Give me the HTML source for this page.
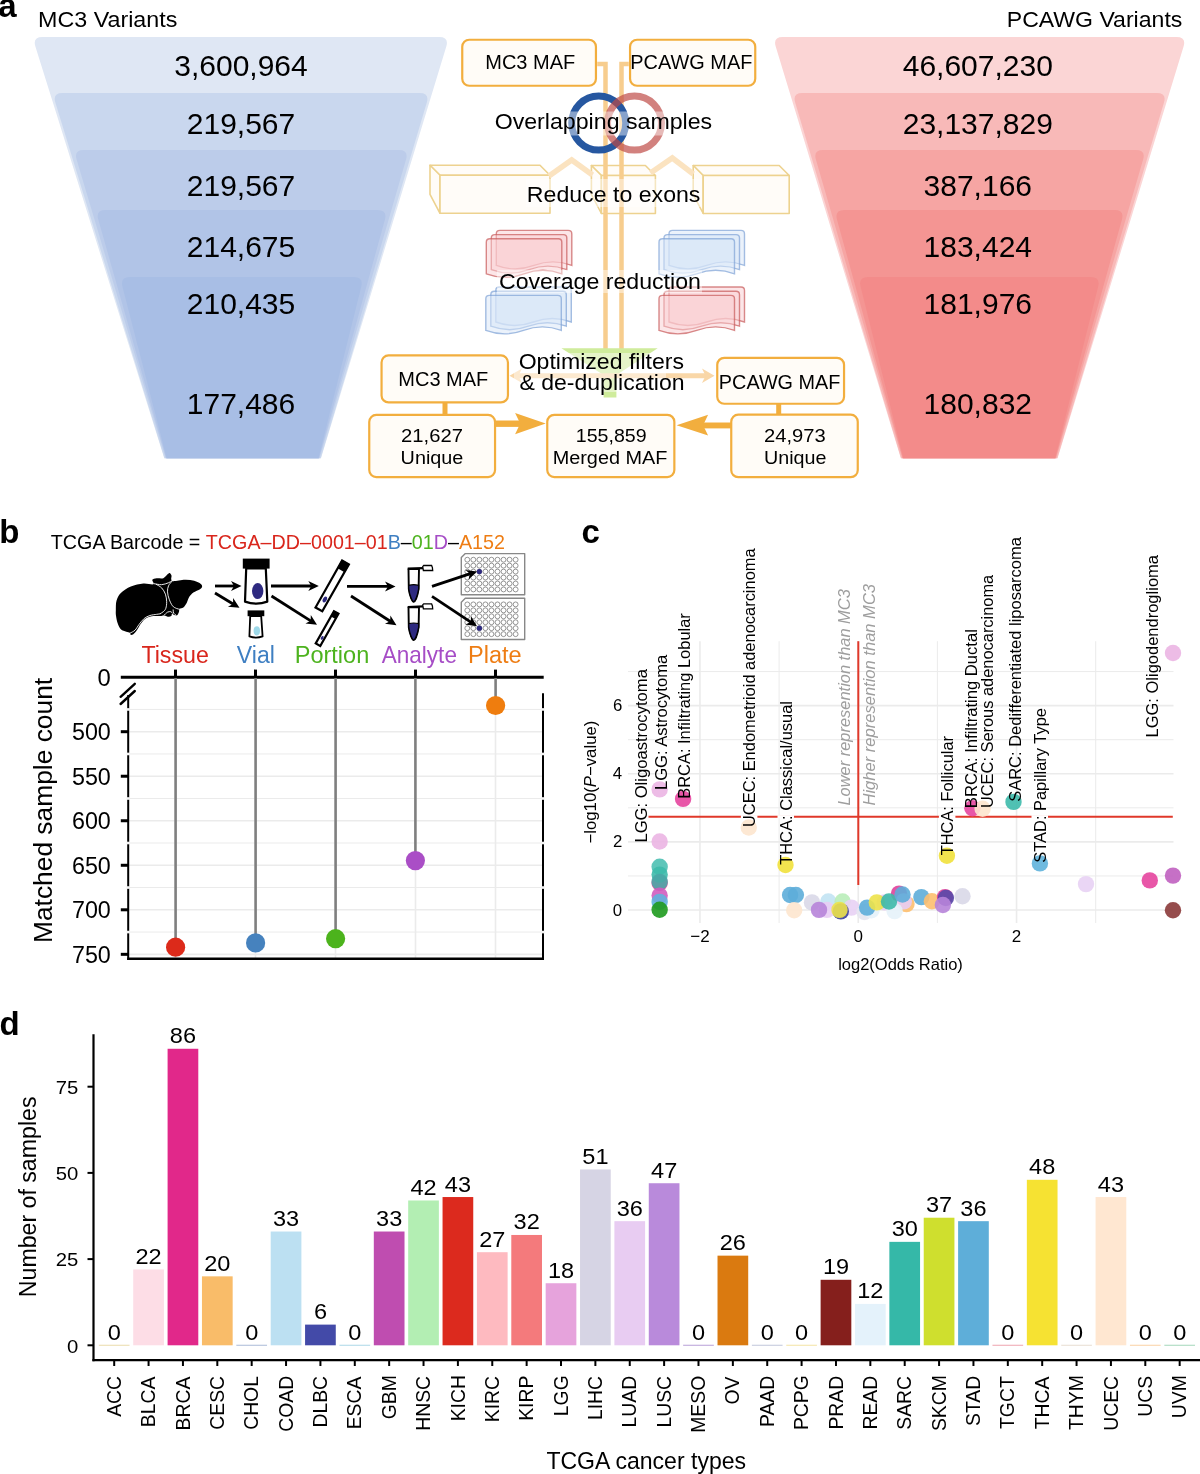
<!DOCTYPE html>
<html><head><meta charset="utf-8"><title>Figure</title>
<style>
html,body{margin:0;padding:0;background:#fff;width:1200px;height:1474px;overflow:hidden}
svg{display:block}
svg text{font-family:"Liberation Sans", sans-serif}
svg{will-change:transform}
</style></head><body>
<svg width="1200" height="1474" viewBox="0 0 1200 1474">
<rect width="1200" height="1474" fill="#fff"/>
<text x="-1.85" y="17.2" font-size="33" font-weight="bold">a</text>
<text transform="translate(38.09,26.70) scale(1.0395,1)" font-size="22.4" fill="#000" >MC3 Variants</text>
<text transform="translate(1006.81,26.70) scale(1.0301,1)" font-size="22.4" fill="#000" >PCAWG Variants</text>
<path d="M42.40,37 L439.20,37 Q449.20,37 446.29,46.57 L321.00,458.3 L164.20,458.3 L35.39,46.54 Q32.40,37 42.40,37 Z" fill="#DFE7F4"/>
<path d="M62.42,93 L419.66,93 Q429.66,93 426.80,102.58 L320.70,458.3 L164.50,458.3 L55.35,102.56 Q52.42,93 62.42,93 Z" fill="#C9D7EE"/>
<path d="M83.75,150 L398.81,150 Q408.81,150 406.03,159.61 L319.50,458.3 L165.70,458.3 L76.61,159.58 Q73.75,150 83.75,150 Z" fill="#BCCCEA"/>
<path d="M105.52,210 L377.56,210 Q387.56,210 384.90,219.64 L319.00,458.3 L166.20,458.3 L98.26,219.62 Q95.52,210 105.52,210 Z" fill="#B1C4E7"/>
<path d="M129.98,277 L353.67,277 Q363.67,277 361.25,286.70 L318.50,458.3 L166.70,458.3 L122.48,286.68 Q119.98,277 129.98,277 Z" fill="#A8BEE5"/>
<text x="241.00" y="75.90" font-size="30" text-anchor="middle" fill="#000" >3,600,964</text>
<text x="241.00" y="133.70" font-size="30" text-anchor="middle" fill="#000" >219,567</text>
<text x="241.00" y="195.50" font-size="30" text-anchor="middle" fill="#000" >219,567</text>
<text x="241.00" y="256.80" font-size="30" text-anchor="middle" fill="#000" >214,675</text>
<text x="241.00" y="314.30" font-size="30" text-anchor="middle" fill="#000" >210,435</text>
<text x="241.00" y="414.00" font-size="30" text-anchor="middle" fill="#000" >177,486</text>
<path d="M782.80,37 L1176.50,37 Q1186.50,37 1183.57,46.56 L1057.60,458.3 L900.80,458.3 L775.71,46.57 Q772.80,37 782.80,37 Z" fill="#FBD5D5"/>
<path d="M802.31,93 L1156.87,93 Q1166.87,93 1163.99,102.58 L1057.30,458.3 L901.10,458.3 L795.17,102.58 Q792.31,93 802.31,93 Z" fill="#F8B9B8"/>
<path d="M823.13,150 L1135.93,150 Q1145.93,150 1143.13,159.60 L1056.10,458.3 L902.30,458.3 L815.91,159.61 Q813.13,150 823.13,150 Z" fill="#F6A5A3"/>
<path d="M844.36,210 L1114.57,210 Q1124.57,210 1121.89,219.64 L1055.60,458.3 L902.80,458.3 L837.02,219.64 Q834.36,210 844.36,210 Z" fill="#F49593"/>
<path d="M868.22,277 L1090.57,277 Q1100.57,277 1098.14,286.70 L1055.10,458.3 L903.30,458.3 L860.63,286.70 Q858.22,277 868.22,277 Z" fill="#F38B8A"/>
<text x="977.80" y="75.90" font-size="30" text-anchor="middle" fill="#000" >46,607,230</text>
<text x="977.80" y="133.70" font-size="30" text-anchor="middle" fill="#000" >23,137,829</text>
<text x="977.80" y="195.50" font-size="30" text-anchor="middle" fill="#000" >387,166</text>
<text x="977.80" y="256.80" font-size="30" text-anchor="middle" fill="#000" >183,424</text>
<text x="977.80" y="314.30" font-size="30" text-anchor="middle" fill="#000" >181,976</text>
<text x="977.80" y="414.00" font-size="30" text-anchor="middle" fill="#000" >180,832</text>
<g fill="#FFFCF8" stroke="#EDD28F" stroke-width="1.6" stroke-linejoin="round"><path d="M430,165.3 L540,165.3 L550,175.3 L440,175.3 Z"/><path d="M430,165.3 L440,175.3 L440,213.3 L430,194.3 Z"/><rect x="440" y="175.3" width="110" height="38"/></g>
<g fill="#FFFCF8" stroke="#EDD28F" stroke-width="1.6" stroke-linejoin="round"><path d="M591.4,165.5 L645.4,165.5 L655.4,175.5 L601.4,175.5 Z"/><path d="M591.4,165.5 L601.4,175.5 L601.4,213.5 L591.4,194.5 Z"/><rect x="601.4" y="175.5" width="54" height="38"/></g>
<g fill="#FFFCF8" stroke="#EDD28F" stroke-width="1.6" stroke-linejoin="round"><path d="M693.2,165.5 L779.2,165.5 L789.2,175.5 L703.2,175.5 Z"/><path d="M693.2,165.5 L703.2,175.5 L703.2,213.5 L693.2,194.5 Z"/><rect x="703.2" y="175.5" width="86" height="38"/></g>
<polyline points="549,176 571.7,160 592.5,175" fill="none" stroke="#FBE3C0" stroke-width="5.5" stroke-linejoin="miter"/>
<polyline points="650.5,173 672.3,158 693.3,174" fill="none" stroke="#FBE3C0" stroke-width="5.5" stroke-linejoin="miter"/>
<rect x="462.25" y="39.75" width="133.70" height="46.00" rx="7" fill="#FFFCF7" stroke="#F2AE3E" stroke-width="2.2"/>
<rect x="630.05" y="39.75" width="125.20" height="46.00" rx="7" fill="#FFFCF7" stroke="#F2AE3E" stroke-width="2.2"/>
<path d="M597.2,64 H605.5 V349" fill="none" stroke="#F7CD8E" stroke-width="4.5"/>
<path d="M628.8,64 H621.5 V349" fill="none" stroke="#F7CD8E" stroke-width="4.5"/>
<circle cx="598.7" cy="123.1" r="27" fill="none" stroke="#2657A0" stroke-width="7"/>
<circle cx="634.5" cy="123.1" r="27" fill="none" stroke="rgb(190,72,68)" stroke-opacity="0.69" stroke-width="7"/>
<path d="M496.3,233.9 Q496.3,230.4 499.8,230.4 L568.3,230.4 Q571.8,230.4 571.8,233.9 L571.8,265.4 Q552.92,258.4 534.05,265.4 Q515.17,272.4 496.3,265.4 Z" fill="#F9CDD2" fill-opacity="0.5" stroke="#C85A5A" stroke-opacity="0.7" stroke-width="1.4"/>
<path d="M491.3,238.10000000000002 Q491.3,234.60000000000002 494.8,234.60000000000002 L563.3,234.60000000000002 Q566.8,234.60000000000002 566.8,238.10000000000002 L566.8,269.6 Q547.92,262.6 529.05,269.6 Q510.18,276.6 491.3,269.6 Z" fill="#F9CDD2" fill-opacity="0.5" stroke="#C85A5A" stroke-opacity="0.7" stroke-width="1.4"/>
<path d="M486.3,242.3 Q486.3,238.8 489.8,238.8 L558.3,238.8 Q561.8,238.8 561.8,242.3 L561.8,273.8 Q542.92,266.8 524.05,273.8 Q505.18,280.8 486.3,273.8 Z" fill="#F9CDD2" fill-opacity="0.5" stroke="#C85A5A" stroke-opacity="0.7" stroke-width="1.4"/>
<path d="M495.8,290.5 Q495.8,287.0 499.3,287.0 L567.8,287.0 Q571.3,287.0 571.3,290.5 L571.3,322.0 Q552.42,315.0 533.55,322.0 Q514.67,329.0 495.8,322.0 Z" fill="#D8E6F8" fill-opacity="0.5" stroke="#7FA2D6" stroke-opacity="0.7" stroke-width="1.4"/>
<path d="M490.8,294.7 Q490.8,291.2 494.3,291.2 L562.8,291.2 Q566.3,291.2 566.3,294.7 L566.3,326.2 Q547.42,319.2 528.55,326.2 Q509.68,333.2 490.8,326.2 Z" fill="#D8E6F8" fill-opacity="0.5" stroke="#7FA2D6" stroke-opacity="0.7" stroke-width="1.4"/>
<path d="M485.8,298.9 Q485.8,295.4 489.3,295.4 L557.8,295.4 Q561.3,295.4 561.3,298.9 L561.3,330.4 Q542.42,323.4 523.55,330.4 Q504.68,337.4 485.8,330.4 Z" fill="#D8E6F8" fill-opacity="0.5" stroke="#7FA2D6" stroke-opacity="0.7" stroke-width="1.4"/>
<path d="M669,233.9 Q669,230.4 672.5,230.4 L741.0,230.4 Q744.5,230.4 744.5,233.9 L744.5,265.4 Q725.62,258.4 706.75,265.4 Q687.88,272.4 669,265.4 Z" fill="#D8E6F8" fill-opacity="0.5" stroke="#7FA2D6" stroke-opacity="0.7" stroke-width="1.4"/>
<path d="M664,238.10000000000002 Q664,234.60000000000002 667.5,234.60000000000002 L736.0,234.60000000000002 Q739.5,234.60000000000002 739.5,238.10000000000002 L739.5,269.6 Q720.62,262.6 701.75,269.6 Q682.88,276.6 664,269.6 Z" fill="#D8E6F8" fill-opacity="0.5" stroke="#7FA2D6" stroke-opacity="0.7" stroke-width="1.4"/>
<path d="M659,242.3 Q659,238.8 662.5,238.8 L731.0,238.8 Q734.5,238.8 734.5,242.3 L734.5,273.8 Q715.62,266.8 696.75,273.8 Q677.88,280.8 659,273.8 Z" fill="#D8E6F8" fill-opacity="0.5" stroke="#7FA2D6" stroke-opacity="0.7" stroke-width="1.4"/>
<path d="M669,290.5 Q669,287.0 672.5,287.0 L741.0,287.0 Q744.5,287.0 744.5,290.5 L744.5,322.0 Q725.62,315.0 706.75,322.0 Q687.88,329.0 669,322.0 Z" fill="#F9CDD2" fill-opacity="0.5" stroke="#C85A5A" stroke-opacity="0.7" stroke-width="1.4"/>
<path d="M664,294.7 Q664,291.2 667.5,291.2 L736.0,291.2 Q739.5,291.2 739.5,294.7 L739.5,326.2 Q720.62,319.2 701.75,326.2 Q682.88,333.2 664,326.2 Z" fill="#F9CDD2" fill-opacity="0.5" stroke="#C85A5A" stroke-opacity="0.7" stroke-width="1.4"/>
<path d="M659,298.9 Q659,295.4 662.5,295.4 L731.0,295.4 Q734.5,295.4 734.5,298.9 L734.5,330.4 Q715.62,323.4 696.75,330.4 Q677.88,337.4 659,330.4 Z" fill="#F9CDD2" fill-opacity="0.5" stroke="#C85A5A" stroke-opacity="0.7" stroke-width="1.4"/>
<path d="M561.4,348.3 L657.7,348.3 L616.4,375 L616.4,397.5 L603.6,397.5 L603.6,375 Z" fill="#CFEC9C"/>
<line x1="516" y1="375.8" x2="708" y2="375.8" stroke="#F9D7A8" stroke-width="5"/>
<path d="M509.5,375.8 L522,368.5 L518.5,375.8 L522,383 Z" fill="#F9D7A8"/>
<path d="M714.5,375.8 L702,368.5 L705.5,375.8 L702,383 Z" fill="#F9D7A8"/>
<rect x="381.55" y="355.45" width="126.40" height="47.00" rx="7" fill="#FFFCF7" stroke="#F2AE3E" stroke-width="2.2"/>
<rect x="717.25" y="357.85" width="126.80" height="45.90" rx="7" fill="#FFFCF7" stroke="#F2AE3E" stroke-width="2.2"/>
<rect x="442.5" y="402" width="5" height="13" fill="#F2AE3E"/>
<rect x="776.2" y="403" width="5" height="13" fill="#F2AE3E"/>
<rect x="369.25" y="414.95" width="125.80" height="62.10" rx="7" fill="#FFFCF7" stroke="#F2AE3E" stroke-width="2.2"/>
<rect x="547.25" y="414.85" width="127.10" height="62.20" rx="7" fill="#FFFCF7" stroke="#F2AE3E" stroke-width="2.2"/>
<rect x="731.25" y="414.65" width="126.50" height="62.50" rx="7" fill="#FFFCF7" stroke="#F2AE3E" stroke-width="2.2"/>
<path d="M495,420.5 H521 V426.9 H495 Z" fill="#F2AE3E"/>
<path d="M545.7,423.6 L515.1,412.9 L520.2,423.6 L515.1,434.2 Z" fill="#F2AE3E"/>
<path d="M731,422.5 H702 V428.4 H731 Z" fill="#F2AE3E"/>
<path d="M676.6,425.3 L708.1,414.7 L703.1,425.3 L708.1,435.6 Z" fill="#F2AE3E"/>
<rect x="494" y="111.5" width="219" height="24.0" fill="#fff" fill-opacity="0.45"/>
<text transform="translate(494.65,128.75) scale(1.0295,1)" font-size="22.5" fill="#000" >Overlapping samples</text>
<rect x="526" y="179" width="176" height="28" fill="#fff" fill-opacity="0.45"/>
<text transform="translate(526.80,201.60) scale(1.0767,1)" font-size="21.5" fill="#000" >Reduce to exons</text>
<rect x="497" y="270" width="205" height="23" fill="#fff" fill-opacity="0.45"/>
<text transform="translate(498.92,288.60) scale(1.0775,1)" font-size="21.5" fill="#000" >Coverage reduction</text>
<rect x="514" y="353" width="152" height="39" fill="#fff" fill-opacity="0.45"/>
<text transform="translate(518.66,369.45) scale(1.0583,1)" font-size="21.8" fill="#000" >Optimized filters</text>
<text transform="translate(519.39,390.00) scale(1.0574,1)" font-size="21.8" fill="#000" >&amp; de-duplication</text>
<text transform="translate(485.26,68.70) scale(0.9993,1)" font-size="20" fill="#000" >MC3 MAF</text>
<text transform="translate(630.27,68.70) scale(0.9960,1)" font-size="20" fill="#000" >PCAWG MAF</text>
<text transform="translate(398.36,386.30) scale(0.9993,1)" font-size="20" fill="#000" >MC3 MAF</text>
<text transform="translate(718.87,388.60) scale(0.9910,1)" font-size="20" fill="#000" >PCAWG MAF</text>
<text transform="translate(401.08,442.20) scale(1.0658,1)" font-size="19" fill="#000" >21,627</text>
<text transform="translate(400.57,463.80) scale(1.0432,1)" font-size="19" fill="#000" >Unique</text>
<text transform="translate(575.81,442.20) scale(1.0312,1)" font-size="19" fill="#000" >155,859</text>
<text transform="translate(552.67,463.80) scale(1.0457,1)" font-size="19" fill="#000" >Merged MAF</text>
<text transform="translate(763.98,442.30) scale(1.0635,1)" font-size="19" fill="#000" >24,973</text>
<text transform="translate(763.98,463.80) scale(1.0380,1)" font-size="19" fill="#000" >Unique</text>
<text x="-0.8" y="542.5" font-size="33" font-weight="bold">b</text>
<text transform="translate(50.81,548.7) scale(0.9391,1)" font-size="21.0">TCGA Barcode = <tspan fill="#D9261C">TCGA–DD–0001–01</tspan><tspan fill="#3F7FC2">B</tspan>–<tspan fill="#4DB31E">01</tspan><tspan fill="#A64DC6">D</tspan>–<tspan fill="#EE7D14">A152</tspan></text>
<path d="M115.83,610.00 C115.92,607.50 115.67,603.68 116.50,600.83 C117.33,597.99 118.44,595.31 120.83,592.92 C123.22,590.53 127.08,588.07 130.83,586.50 C134.58,584.93 139.58,583.86 143.33,583.50 C147.08,583.14 151.83,584.94 153.33,584.33 C154.83,583.72 151.78,580.83 152.33,579.83 C152.89,578.83 154.83,578.61 156.67,578.33 C158.50,578.06 161.53,578.83 163.33,578.17 C165.14,577.50 166.46,575.21 167.50,574.33 C168.54,573.46 168.92,572.74 169.58,572.92 C170.25,573.10 171.22,574.35 171.50,575.42 C171.78,576.49 170.94,578.36 171.25,579.33 C171.56,580.31 171.04,581.17 173.33,581.25 C175.62,581.33 181.53,579.90 185.00,579.83 C188.47,579.76 191.53,580.14 194.17,580.83 C196.81,581.53 199.51,583.00 200.83,584.00 C202.15,585.00 202.22,585.97 202.08,586.83 C201.94,587.69 201.46,588.22 200.00,589.17 C198.54,590.11 195.14,591.18 193.33,592.50 C191.53,593.82 190.28,595.35 189.17,597.08 C188.06,598.82 187.64,601.18 186.67,602.92 C185.69,604.65 184.51,606.49 183.33,607.50 C182.15,608.51 180.31,608.31 179.58,609.00 C178.86,609.69 179.42,610.62 179.00,611.67 C178.58,612.71 177.89,614.69 177.08,615.25 C176.28,615.81 175.00,615.25 174.17,615.00 C173.33,614.75 172.57,613.58 172.08,613.75 C171.60,613.92 171.94,615.51 171.25,616.00 C170.56,616.49 169.10,616.75 167.92,616.67 C166.74,616.58 165.49,615.61 164.17,615.50 C162.85,615.39 162.08,615.86 160.00,616.00 C157.92,616.14 154.17,615.83 151.67,616.33 C149.17,616.83 146.81,617.76 145.00,619.00 C143.19,620.24 142.22,621.85 140.83,623.75 C139.44,625.65 137.92,628.68 136.67,630.42 C135.42,632.15 134.33,633.43 133.33,634.17 C132.33,634.90 131.25,635.08 130.67,634.83 C130.08,634.58 130.57,633.19 129.83,632.67 C129.10,632.14 127.75,632.25 126.25,631.67 C124.75,631.08 122.26,630.56 120.83,629.17 C119.40,627.78 118.47,625.56 117.67,623.33 C116.86,621.11 116.31,618.06 116.00,615.83 C115.69,613.61 115.75,612.50 115.83,610.00 Z" fill="#000"/>
<path d="M130.42,632.92 C131.18,632.46 133.54,631.60 135.00,630.17 C136.46,628.74 137.64,626.28 139.17,624.33 C140.69,622.39 142.36,619.97 144.17,618.50 C145.97,617.03 147.92,616.19 150.00,615.50 C152.08,614.81 154.97,614.61 156.67,614.33 C158.36,614.06 159.58,613.92 160.17,613.83 " fill="none" stroke="#fff" stroke-width="0.9" stroke-linecap="round"/>
<path d="M156.25,584.33 C157.15,584.93 160.14,586.28 161.67,587.92 C163.19,589.56 164.58,591.88 165.42,594.17 C166.25,596.46 166.60,599.31 166.67,601.67 C166.74,604.03 166.39,606.67 165.83,608.33 C165.28,610.00 164.24,610.81 163.33,611.67 C162.43,612.53 160.90,613.19 160.42,613.50 " fill="none" stroke="#fff" stroke-width="0.9" stroke-linecap="round"/>
<path d="M171.83,581.50 C171.28,582.22 169.22,584.11 168.50,585.83 C167.78,587.56 167.39,589.61 167.50,591.83 C167.61,594.06 168.33,596.83 169.17,599.17 C170.00,601.50 171.25,604.28 172.50,605.83 C173.75,607.39 175.39,607.92 176.67,608.50 C177.94,609.08 179.58,609.19 180.17,609.33 " fill="none" stroke="#fff" stroke-width="0.9" stroke-linecap="round"/>
<path d="M154.00,583.67 C155.28,583.83 159.28,584.81 161.67,584.67 C164.06,584.53 166.56,583.50 168.33,582.83 C170.11,582.17 171.67,581.03 172.33,580.67 " fill="none" stroke="#fff" stroke-width="0.9" stroke-linecap="round"/>
<path d="M164.00,615.33 C164.58,614.81 166.36,612.78 167.50,612.17 C168.64,611.56 170.03,611.50 170.83,611.67 C171.64,611.83 172.08,612.92 172.33,613.17 " fill="none" stroke="#fff" stroke-width="0.9" stroke-linecap="round"/>
<path d="M173.17,609.83 C173.25,610.39 173.19,612.28 173.67,613.17 C174.14,614.06 175.61,614.83 176.00,615.17 " fill="none" stroke="#fff" stroke-width="0.9" stroke-linecap="round"/>
<line x1="215" y1="586" x2="234.50" y2="586.00" stroke="#000" stroke-width="2.8"/>
<path d="M241.50,586.00 L231.00,591.00 L234.00,586.00 L231.00,581.00 Z" fill="#000"/>
<line x1="215" y1="593" x2="233.51" y2="604.18" stroke="#000" stroke-width="2.8"/>
<path d="M239.50,607.80 L227.93,606.65 L233.08,603.92 L233.10,598.09 Z" fill="#000"/>
<line x1="271" y1="586" x2="311.80" y2="586.00" stroke="#000" stroke-width="2.8"/>
<path d="M318.80,586.00 L308.30,591.00 L311.30,586.00 L308.30,581.00 Z" fill="#000"/>
<line x1="271.5" y1="596" x2="311.09" y2="621.06" stroke="#000" stroke-width="2.8"/>
<path d="M317.00,624.80 L305.45,623.41 L310.66,620.79 L310.80,614.96 Z" fill="#000"/>
<line x1="347" y1="586.4" x2="388.50" y2="586.40" stroke="#000" stroke-width="2.8"/>
<path d="M395.50,586.40 L385.00,591.40 L388.00,586.40 L385.00,581.40 Z" fill="#000"/>
<line x1="351" y1="596" x2="390.61" y2="621.51" stroke="#000" stroke-width="2.8"/>
<path d="M396.50,625.30 L384.96,623.82 L390.19,621.24 L390.38,615.41 Z" fill="#000"/>
<rect x="242.8" y="558.6" width="26.8" height="10" fill="#000"/>
<path d="M246.2,568.5 L265.8,568.5 L267.3,601.6 Q256.2,605.6 245,601.6 Z" fill="#fff" stroke="#000" stroke-width="2.2" stroke-linejoin="round"/>
<ellipse cx="257.7" cy="591.1" rx="5.7" ry="8" fill="#2E2A80"/>
<rect x="247.6" y="610.4" width="16.7" height="5.8" fill="#000"/>
<path d="M250.2,616.2 L261.2,616.2 L262.6,636.4 Q256,638.8 249.4,636.4 Z" fill="#fff" stroke="#000" stroke-width="1.8" stroke-linejoin="round"/>
<ellipse cx="256.8" cy="630.8" rx="3.2" ry="4.6" fill="#9ED9E9"/>
<g transform="translate(332.2,585.9) rotate(-60.5)"><rect x="-27.0" y="-3.9" width="54" height="7.8" fill="#fff" stroke="#000" stroke-width="2.2"/><rect x="18.0" y="-4.4" width="9.5" height="8.8" fill="#000"/><ellipse cx="-15.5" cy="0.3" rx="3.12" ry="1.87" fill="#2E2A80"/></g>
<g transform="translate(327.1,628.6) rotate(-60.5)"><rect x="-18.5" y="-2.6" width="37" height="5.2" fill="#fff" stroke="#000" stroke-width="2.2"/><rect x="12.5" y="-3.1" width="6.5" height="6.2" fill="#000"/><ellipse cx="-10.5" cy="0.3" rx="2.08" ry="1.25" fill="#2E2A80"/></g>
<path d="M408.5,569.1 L408.8,589.1 C409.8,596.1 412.4,601.7 413.7,601.7 C415.0,601.7 417.4,596.1 418.59999999999997,589.1 L419.0,569.1 Z" fill="#fff" stroke="#000" stroke-width="1.9" stroke-linejoin="round"/>
<path d="M408.7,585.3000000000001 Q413.7,584.1 418.7,585.3000000000001 L418.59999999999997,589.1 C417.4,596.1 415.0,601.7 413.7,601.7 C412.4,601.7 409.8,596.1 408.8,589.1 Z" fill="#2E2A80" stroke="#000" stroke-width="1.2"/>
<line x1="407.7" y1="568.7" x2="423.2" y2="568.1" stroke="#000" stroke-width="2.2"/>
<path d="M422.7,566.6 L423.7,565.5 L431.59999999999997,565.5 L432.4,567.6 L432.7,570.5 L423.4,570.5 Z" fill="#fff" stroke="#000" stroke-width="1.3"/>
<path d="M408.5,607.4 L408.8,627.4 C409.8,634.4 412.4,640.0 413.7,640.0 C415.0,640.0 417.4,634.4 418.59999999999997,627.4 L419.0,607.4 Z" fill="#fff" stroke="#000" stroke-width="1.9" stroke-linejoin="round"/>
<path d="M408.7,623.6 Q413.7,622.4 418.7,623.6 L418.59999999999997,627.4 C417.4,634.4 415.0,640.0 413.7,640.0 C412.4,640.0 409.8,634.4 408.8,627.4 Z" fill="#2E2A80" stroke="#000" stroke-width="1.2"/>
<line x1="407.7" y1="607.0" x2="423.2" y2="606.4" stroke="#000" stroke-width="2.2"/>
<path d="M422.7,604.9 L423.7,603.8 L431.59999999999997,603.8 L432.4,605.9 L432.7,608.8 L423.4,608.8 Z" fill="#fff" stroke="#000" stroke-width="1.3"/>
<path d="M465.3,553.6 L524.7,553.6 L524.7,594.8000000000001 L461.3,594.8000000000001 L461.3,557.6 Z" fill="#fff" stroke="#888" stroke-width="1.4" stroke-linejoin="round"/>
<g fill="#fff" stroke="#7a7a7a" stroke-width="0.8"><circle cx="467.30" cy="559.70" r="2.45"/><circle cx="473.34" cy="559.70" r="2.45"/><circle cx="479.38" cy="559.70" r="2.45"/><circle cx="485.42" cy="559.70" r="2.45"/><circle cx="491.46" cy="559.70" r="2.45"/><circle cx="497.50" cy="559.70" r="2.45"/><circle cx="503.54" cy="559.70" r="2.45"/><circle cx="509.58" cy="559.70" r="2.45"/><circle cx="515.62" cy="559.70" r="2.45"/><circle cx="467.30" cy="565.65" r="2.45"/><circle cx="473.34" cy="565.65" r="2.45"/><circle cx="479.38" cy="565.65" r="2.45"/><circle cx="485.42" cy="565.65" r="2.45"/><circle cx="491.46" cy="565.65" r="2.45"/><circle cx="497.50" cy="565.65" r="2.45"/><circle cx="503.54" cy="565.65" r="2.45"/><circle cx="509.58" cy="565.65" r="2.45"/><circle cx="515.62" cy="565.65" r="2.45"/><circle cx="467.30" cy="571.60" r="2.45"/><circle cx="473.34" cy="571.60" r="2.45"/><circle cx="479.38" cy="571.60" r="2.45"/><circle cx="485.42" cy="571.60" r="2.45"/><circle cx="491.46" cy="571.60" r="2.45"/><circle cx="497.50" cy="571.60" r="2.45"/><circle cx="503.54" cy="571.60" r="2.45"/><circle cx="509.58" cy="571.60" r="2.45"/><circle cx="515.62" cy="571.60" r="2.45"/><circle cx="467.30" cy="577.55" r="2.45"/><circle cx="473.34" cy="577.55" r="2.45"/><circle cx="479.38" cy="577.55" r="2.45"/><circle cx="485.42" cy="577.55" r="2.45"/><circle cx="491.46" cy="577.55" r="2.45"/><circle cx="497.50" cy="577.55" r="2.45"/><circle cx="503.54" cy="577.55" r="2.45"/><circle cx="509.58" cy="577.55" r="2.45"/><circle cx="515.62" cy="577.55" r="2.45"/><circle cx="467.30" cy="583.50" r="2.45"/><circle cx="473.34" cy="583.50" r="2.45"/><circle cx="479.38" cy="583.50" r="2.45"/><circle cx="485.42" cy="583.50" r="2.45"/><circle cx="491.46" cy="583.50" r="2.45"/><circle cx="497.50" cy="583.50" r="2.45"/><circle cx="503.54" cy="583.50" r="2.45"/><circle cx="509.58" cy="583.50" r="2.45"/><circle cx="515.62" cy="583.50" r="2.45"/><circle cx="467.30" cy="589.45" r="2.45"/><circle cx="473.34" cy="589.45" r="2.45"/><circle cx="479.38" cy="589.45" r="2.45"/><circle cx="485.42" cy="589.45" r="2.45"/><circle cx="491.46" cy="589.45" r="2.45"/><circle cx="497.50" cy="589.45" r="2.45"/><circle cx="503.54" cy="589.45" r="2.45"/><circle cx="509.58" cy="589.45" r="2.45"/><circle cx="515.62" cy="589.45" r="2.45"/></g>
<circle cx="479.38" cy="571.60" r="2.6" fill="#2E2A80"/>
<path d="M465.3,598.3 L524.7,598.3 L524.7,639.5 L461.3,639.5 L461.3,602.3 Z" fill="#fff" stroke="#888" stroke-width="1.4" stroke-linejoin="round"/>
<g fill="#fff" stroke="#7a7a7a" stroke-width="0.8"><circle cx="467.30" cy="604.40" r="2.45"/><circle cx="473.34" cy="604.40" r="2.45"/><circle cx="479.38" cy="604.40" r="2.45"/><circle cx="485.42" cy="604.40" r="2.45"/><circle cx="491.46" cy="604.40" r="2.45"/><circle cx="497.50" cy="604.40" r="2.45"/><circle cx="503.54" cy="604.40" r="2.45"/><circle cx="509.58" cy="604.40" r="2.45"/><circle cx="515.62" cy="604.40" r="2.45"/><circle cx="467.30" cy="610.35" r="2.45"/><circle cx="473.34" cy="610.35" r="2.45"/><circle cx="479.38" cy="610.35" r="2.45"/><circle cx="485.42" cy="610.35" r="2.45"/><circle cx="491.46" cy="610.35" r="2.45"/><circle cx="497.50" cy="610.35" r="2.45"/><circle cx="503.54" cy="610.35" r="2.45"/><circle cx="509.58" cy="610.35" r="2.45"/><circle cx="515.62" cy="610.35" r="2.45"/><circle cx="467.30" cy="616.30" r="2.45"/><circle cx="473.34" cy="616.30" r="2.45"/><circle cx="479.38" cy="616.30" r="2.45"/><circle cx="485.42" cy="616.30" r="2.45"/><circle cx="491.46" cy="616.30" r="2.45"/><circle cx="497.50" cy="616.30" r="2.45"/><circle cx="503.54" cy="616.30" r="2.45"/><circle cx="509.58" cy="616.30" r="2.45"/><circle cx="515.62" cy="616.30" r="2.45"/><circle cx="467.30" cy="622.25" r="2.45"/><circle cx="473.34" cy="622.25" r="2.45"/><circle cx="479.38" cy="622.25" r="2.45"/><circle cx="485.42" cy="622.25" r="2.45"/><circle cx="491.46" cy="622.25" r="2.45"/><circle cx="497.50" cy="622.25" r="2.45"/><circle cx="503.54" cy="622.25" r="2.45"/><circle cx="509.58" cy="622.25" r="2.45"/><circle cx="515.62" cy="622.25" r="2.45"/><circle cx="467.30" cy="628.20" r="2.45"/><circle cx="473.34" cy="628.20" r="2.45"/><circle cx="479.38" cy="628.20" r="2.45"/><circle cx="485.42" cy="628.20" r="2.45"/><circle cx="491.46" cy="628.20" r="2.45"/><circle cx="497.50" cy="628.20" r="2.45"/><circle cx="503.54" cy="628.20" r="2.45"/><circle cx="509.58" cy="628.20" r="2.45"/><circle cx="515.62" cy="628.20" r="2.45"/><circle cx="467.30" cy="634.15" r="2.45"/><circle cx="473.34" cy="634.15" r="2.45"/><circle cx="479.38" cy="634.15" r="2.45"/><circle cx="485.42" cy="634.15" r="2.45"/><circle cx="491.46" cy="634.15" r="2.45"/><circle cx="497.50" cy="634.15" r="2.45"/><circle cx="503.54" cy="634.15" r="2.45"/><circle cx="509.58" cy="634.15" r="2.45"/><circle cx="515.62" cy="634.15" r="2.45"/></g>
<circle cx="479.38" cy="628.20" r="2.6" fill="#2E2A80"/>
<line x1="432" y1="586.4" x2="470.35" y2="573.70" stroke="#000" stroke-width="2.8"/>
<path d="M477.00,571.50 L468.60,579.55 L469.88,573.86 L465.46,570.05 Z" fill="#000"/>
<line x1="432" y1="596.4" x2="471.16" y2="622.34" stroke="#000" stroke-width="2.8"/>
<path d="M477.00,626.20 L465.48,624.57 L470.75,622.06 L471.01,616.23 Z" fill="#000"/>
<text transform="translate(141.38,663.10) scale(1.0011,1)" font-size="23.2" fill="#D9261C" >Tissue</text>
<text transform="translate(236.80,663.10) scale(0.9951,1)" font-size="23.2" fill="#3F7FC2" >Vial</text>
<text transform="translate(294.77,663.10) scale(1.0129,1)" font-size="23.2" fill="#4DB31E" >Portion</text>
<text transform="translate(381.66,663.10) scale(0.9737,1)" font-size="23.2" fill="#A64DC6" >Analyte</text>
<text transform="translate(468.07,663.10) scale(1.0151,1)" font-size="23.2" fill="#EE7D14" >Plate</text>
<line x1="129" y1="709.44" x2="542.5" y2="709.44" stroke="#EBEBEB" stroke-width="1"/>
<line x1="129" y1="731.70" x2="542.5" y2="731.70" stroke="#EBEBEB" stroke-width="1.6"/>
<line x1="129" y1="753.96" x2="542.5" y2="753.96" stroke="#EBEBEB" stroke-width="1"/>
<line x1="129" y1="776.23" x2="542.5" y2="776.23" stroke="#EBEBEB" stroke-width="1.6"/>
<line x1="129" y1="798.49" x2="542.5" y2="798.49" stroke="#EBEBEB" stroke-width="1"/>
<line x1="129" y1="820.75" x2="542.5" y2="820.75" stroke="#EBEBEB" stroke-width="1.6"/>
<line x1="129" y1="843.01" x2="542.5" y2="843.01" stroke="#EBEBEB" stroke-width="1"/>
<line x1="129" y1="865.28" x2="542.5" y2="865.28" stroke="#EBEBEB" stroke-width="1.6"/>
<line x1="129" y1="887.54" x2="542.5" y2="887.54" stroke="#EBEBEB" stroke-width="1"/>
<line x1="129" y1="909.80" x2="542.5" y2="909.80" stroke="#EBEBEB" stroke-width="1.6"/>
<line x1="129" y1="932.06" x2="542.5" y2="932.06" stroke="#EBEBEB" stroke-width="1"/>
<line x1="129" y1="954.33" x2="542.5" y2="954.33" stroke="#EBEBEB" stroke-width="1.6"/>
<line x1="175.5" y1="693" x2="175.5" y2="958" stroke="#EBEBEB" stroke-width="1.6"/>
<line x1="255.5" y1="693" x2="255.5" y2="958" stroke="#EBEBEB" stroke-width="1.6"/>
<line x1="335.5" y1="693" x2="335.5" y2="958" stroke="#EBEBEB" stroke-width="1.6"/>
<line x1="415.5" y1="693" x2="415.5" y2="958" stroke="#EBEBEB" stroke-width="1.6"/>
<line x1="495.5" y1="693" x2="495.5" y2="958" stroke="#EBEBEB" stroke-width="1.6"/>
<line x1="120.8" y1="677.2" x2="543.7" y2="677.2" stroke="#000" stroke-width="3"/>
<line x1="175.5" y1="669.6" x2="175.5" y2="677" stroke="#000" stroke-width="3"/>
<line x1="255.5" y1="669.6" x2="255.5" y2="677" stroke="#000" stroke-width="3"/>
<line x1="335.5" y1="669.6" x2="335.5" y2="677" stroke="#000" stroke-width="3"/>
<line x1="415.5" y1="669.6" x2="415.5" y2="677" stroke="#000" stroke-width="3"/>
<line x1="495.5" y1="669.6" x2="495.5" y2="677" stroke="#000" stroke-width="3"/>
<text transform="translate(97.57,685.50) scale(1.0235,1)" font-size="23.3" fill="#000" >0</text>
<line x1="120.6" y1="696.8" x2="134.8" y2="683.8" stroke="#000" stroke-width="2.4" stroke-linecap="round"/>
<line x1="120.6" y1="704" x2="134.8" y2="691" stroke="#000" stroke-width="2.4" stroke-linecap="round"/>
<line x1="128.2" y1="695" x2="128.2" y2="960" stroke="#000" stroke-width="2"/>
<line x1="543" y1="693.3" x2="543" y2="960" stroke="#000" stroke-width="2"/>
<line x1="127.2" y1="958.8" x2="544" y2="958.8" stroke="#000" stroke-width="2.4"/>
<rect x="126.5" y="708.14" width="3.4" height="2.6" fill="#F4F4F4"/>
<rect x="541.3" y="708.14" width="3.4" height="2.6" fill="#F4F4F4"/>
<rect x="126.5" y="752.66" width="3.4" height="2.6" fill="#F4F4F4"/>
<rect x="541.3" y="752.66" width="3.4" height="2.6" fill="#F4F4F4"/>
<rect x="126.5" y="797.19" width="3.4" height="2.6" fill="#F4F4F4"/>
<rect x="541.3" y="797.19" width="3.4" height="2.6" fill="#F4F4F4"/>
<rect x="126.5" y="841.71" width="3.4" height="2.6" fill="#F4F4F4"/>
<rect x="541.3" y="841.71" width="3.4" height="2.6" fill="#F4F4F4"/>
<rect x="126.5" y="886.24" width="3.4" height="2.6" fill="#F4F4F4"/>
<rect x="541.3" y="886.24" width="3.4" height="2.6" fill="#F4F4F4"/>
<rect x="126.5" y="930.76" width="3.4" height="2.6" fill="#F4F4F4"/>
<rect x="541.3" y="930.76" width="3.4" height="2.6" fill="#F4F4F4"/>
<line x1="120.8" y1="731.70" x2="128.5" y2="731.70" stroke="#000" stroke-width="3"/>
<text x="71.94" y="740.00" font-size="23.3">500</text>
<line x1="120.8" y1="776.23" x2="128.5" y2="776.23" stroke="#000" stroke-width="3"/>
<text x="71.94" y="784.52" font-size="23.3">550</text>
<line x1="120.8" y1="820.75" x2="128.5" y2="820.75" stroke="#000" stroke-width="3"/>
<text x="71.94" y="829.05" font-size="23.3">600</text>
<line x1="120.8" y1="865.28" x2="128.5" y2="865.28" stroke="#000" stroke-width="3"/>
<text x="71.94" y="873.58" font-size="23.3">650</text>
<line x1="120.8" y1="909.80" x2="128.5" y2="909.80" stroke="#000" stroke-width="3"/>
<text x="71.94" y="918.10" font-size="23.3">700</text>
<line x1="120.8" y1="954.33" x2="128.5" y2="954.33" stroke="#000" stroke-width="3"/>
<text x="71.94" y="962.62" font-size="23.3">750</text>
<text transform="translate(51.50,943.06) rotate(-90) scale(0.9953,1)" font-size="26.5" fill="#000" >Matched sample count</text>
<line x1="175.6" y1="678" x2="175.6" y2="947.2" stroke="#7F7F7F" stroke-width="2.6"/>
<circle cx="175.6" cy="947.2" r="9.6" fill="#DC2A1A"/>
<line x1="255.6" y1="678" x2="255.6" y2="942.9" stroke="#7F7F7F" stroke-width="2.6"/>
<circle cx="255.6" cy="942.9" r="9.6" fill="#4682BE"/>
<line x1="335.6" y1="678" x2="335.6" y2="938.7" stroke="#7F7F7F" stroke-width="2.6"/>
<circle cx="335.6" cy="938.7" r="9.6" fill="#4CB31C"/>
<line x1="415.4" y1="678" x2="415.4" y2="860.6" stroke="#7F7F7F" stroke-width="2.6"/>
<circle cx="415.4" cy="860.6" r="9.6" fill="#AA4EC6"/>
<line x1="495.6" y1="678" x2="495.6" y2="705.5" stroke="#7F7F7F" stroke-width="2.6"/>
<circle cx="495.6" cy="705.5" r="9.6" fill="#EF7D0E"/>
<text x="581.6" y="542.6" font-size="33" font-weight="bold">c</text>
<line x1="699.95" y1="641.2" x2="699.95" y2="923" stroke="#EBEBEB" stroke-width="1.6"/>
<line x1="779.10" y1="641.2" x2="779.10" y2="923" stroke="#EBEBEB" stroke-width="1"/>
<line x1="858.25" y1="641.2" x2="858.25" y2="923" stroke="#EBEBEB" stroke-width="1.6"/>
<line x1="937.40" y1="641.2" x2="937.40" y2="923" stroke="#EBEBEB" stroke-width="1"/>
<line x1="1016.55" y1="641.2" x2="1016.55" y2="923" stroke="#EBEBEB" stroke-width="1.6"/>
<line x1="1095.70" y1="641.2" x2="1095.70" y2="923" stroke="#EBEBEB" stroke-width="1"/>
<line x1="628" y1="910.00" x2="1173.5" y2="910.00" stroke="#EBEBEB" stroke-width="1.6"/>
<line x1="628" y1="875.94" x2="1173.5" y2="875.94" stroke="#EBEBEB" stroke-width="1"/>
<line x1="628" y1="841.88" x2="1173.5" y2="841.88" stroke="#EBEBEB" stroke-width="1.6"/>
<line x1="628" y1="807.82" x2="1173.5" y2="807.82" stroke="#EBEBEB" stroke-width="1"/>
<line x1="628" y1="773.76" x2="1173.5" y2="773.76" stroke="#EBEBEB" stroke-width="1.6"/>
<line x1="628" y1="739.70" x2="1173.5" y2="739.70" stroke="#EBEBEB" stroke-width="1"/>
<line x1="628" y1="705.64" x2="1173.5" y2="705.64" stroke="#EBEBEB" stroke-width="1.6"/>
<line x1="628" y1="671.58" x2="1173.5" y2="671.58" stroke="#EBEBEB" stroke-width="1"/>
<line x1="647.5" y1="816.7" x2="1172.8" y2="816.7" stroke="#E0382A" stroke-width="2"/>
<line x1="858.3" y1="641.2" x2="858.3" y2="885" stroke="#E0382A" stroke-width="2"/>
<rect x="632.00" y="815.2" width="16.5" height="3" fill="#fff"/>
<rect x="740.90" y="815.2" width="16.5" height="3" fill="#fff"/>
<rect x="777.50" y="815.2" width="16.5" height="3" fill="#fff"/>
<rect x="938.90" y="815.2" width="16.5" height="3" fill="#fff"/>
<rect x="1031.50" y="815.2" width="16.5" height="3" fill="#fff"/>
<g fill-opacity="0.9">
<circle cx="659.65" cy="789.4" r="8.2" fill="#EBB5E3"/>
<circle cx="659.65" cy="841.5" r="8.2" fill="#EBB5E3"/>
<circle cx="659.65" cy="883.0" r="8.2" fill="#E5459E"/>
<circle cx="659.65" cy="866.7" r="8.2" fill="#4CC0B2"/>
<circle cx="659.65" cy="874.6" r="8.2" fill="#3DBAAB"/>
<circle cx="659.65" cy="881.9" r="8.2" fill="#4AA7A6"/>
<circle cx="659.65" cy="895.6" r="8.2" fill="#CF5CBF"/>
<circle cx="659.65" cy="901.9" r="8.2" fill="#5FB2DC"/>
<circle cx="659.65" cy="909.8" r="8.2" fill="#1E9A1E"/>
<circle cx="683.1" cy="798.9" r="8.2" fill="#E5459E"/>
<circle cx="748.75" cy="827.5" r="8.2" fill="#FDE6CE"/>
<circle cx="785.5" cy="865.0" r="8.2" fill="#F1E13C"/>
<circle cx="790.1" cy="895.0" r="8.2" fill="#5DADD9"/>
<circle cx="795.9" cy="895.0" r="8.2" fill="#5DADD9"/>
<circle cx="794.2" cy="910.3" r="8.2" fill="#FDE6CE"/>
<circle cx="812.0" cy="902.4" r="8.2" fill="#D9D8E8"/>
<circle cx="828.3" cy="901.5" r="8.2" fill="#C2E3F3"/>
<circle cx="842.6" cy="901.5" r="8.2" fill="#B9EDB9"/>
<circle cx="826.9" cy="909.9" r="8.2" fill="#E8CCF4"/>
<circle cx="819.0" cy="909.9" r="8.2" fill="#B784D9"/>
<circle cx="851.4" cy="907.6" r="8.2" fill="#E8D2F4"/>
<circle cx="840.8" cy="911.4" r="8.2" fill="#3A3F9C"/>
<circle cx="839.5" cy="909.9" r="8.2" fill="#EDE24A"/>
<circle cx="864.5" cy="912.0" r="8.2" fill="#E6E6F0"/>
<circle cx="871.5" cy="910.3" r="8.2" fill="#E6F2FA"/>
<circle cx="867.1" cy="907.6" r="8.2" fill="#5DADD9"/>
<circle cx="899.0" cy="893.6" r="8.2" fill="#E0409A"/>
<circle cx="884.6" cy="902.4" r="8.2" fill="#E8CCF4"/>
<circle cx="906.5" cy="904.1" r="8.2" fill="#FDBF6F"/>
<circle cx="903.8" cy="901.4" r="8.2" fill="#E8CCF4"/>
<circle cx="894.6" cy="911.1" r="8.2" fill="#E6F2FA"/>
<circle cx="876.8" cy="902.4" r="8.2" fill="#EDE24A"/>
<circle cx="889.0" cy="901.5" r="8.2" fill="#3DB9A8"/>
<circle cx="902.5" cy="894.5" r="8.2" fill="#5DADD9"/>
<circle cx="921.4" cy="897.1" r="8.2" fill="#5DADD9"/>
<circle cx="931.9" cy="901.2" r="8.2" fill="#FDBF6F"/>
<circle cx="945.0" cy="897.1" r="8.2" fill="#E0409A"/>
<circle cx="945.9" cy="898.0" r="8.2" fill="#5849A8"/>
<circle cx="942.9" cy="905.0" r="8.2" fill="#B784D9"/>
<circle cx="962.5" cy="896.3" r="8.2" fill="#D9D8E8"/>
<circle cx="946.9" cy="855.8" r="8.2" fill="#F1E13C"/>
<circle cx="972.4" cy="808.2" r="8.2" fill="#E5459E"/>
<circle cx="982.6" cy="808.7" r="8.2" fill="#FDE6CE"/>
<circle cx="1013.5" cy="801.9" r="8.2" fill="#3DBAAB"/>
<circle cx="1039.9" cy="863.4" r="8.2" fill="#5FB2DC"/>
<circle cx="1086.0" cy="884.1" r="8.2" fill="#E8D2F4"/>
<circle cx="1149.8" cy="880.4" r="8.2" fill="#E5459E"/>
<circle cx="1173.0" cy="875.6" r="8.2" fill="#C060C0"/>
<circle cx="1173.0" cy="910.2" r="8.2" fill="#8B3A3A"/>
<circle cx="1173.0" cy="653.0" r="8.2" fill="#EBB5E3"/>
</g>
<text x="612.81" y="915.60" font-size="16.8">0</text>
<text x="613.00" y="847.48" font-size="16.8">2</text>
<text x="612.65" y="779.36" font-size="16.8">4</text>
<text x="612.89" y="711.24" font-size="16.8">6</text>
<text x="699.95" y="941.50" font-size="17" text-anchor="middle" fill="#000" >−2</text>
<text x="858.25" y="941.50" font-size="17" text-anchor="middle" fill="#000" >0</text>
<text x="1016.55" y="941.50" font-size="17" text-anchor="middle" fill="#000" >2</text>
<text x="900.50" y="969.60" font-size="16.5" text-anchor="middle" fill="#000" >log2(Odds Ratio)</text>
<text transform="translate(595.7,843.53) rotate(-90) scale(1.0280,1)" font-size="16.3">−log10(<tspan font-style="italic">P</tspan>−value)</text>
<text transform="translate(646.50,842.61) rotate(-90) scale(1.0071,1)" font-size="16.5" fill="#000" >LGG: Oligoastrocytoma</text>
<text transform="translate(666.50,790.06) rotate(-90) scale(1.0041,1)" font-size="16.5" fill="#000" >LGG: Astrocytoma</text>
<text transform="translate(689.50,798.85) rotate(-90) scale(0.9987,1)" font-size="16.5" fill="#000" >BRCA: Infiltrating Lobular</text>
<text transform="translate(755.40,827.07) rotate(-90) scale(0.9966,1)" font-size="16.5" fill="#000" >UCEC: Endometrioid adenocarcinoma</text>
<text transform="translate(792.00,864.87) rotate(-90) scale(0.9990,1)" font-size="16.5" fill="#000" >THCA: Classical/usual</text>
<text transform="translate(850.00,805.51) rotate(-90) scale(0.9958,1)" font-size="16.5" fill="#9E9E9E" font-style="italic" >Lower represention than MC3</text>
<text transform="translate(874.50,805.51) rotate(-90) scale(1.0028,1)" font-size="16.5" fill="#9E9E9E" font-style="italic" >Higher represention than MC3</text>
<text transform="translate(953.40,855.27) rotate(-90) scale(0.9937,1)" font-size="16.5" fill="#000" >THCA: Follicular</text>
<text transform="translate(977.00,808.16) rotate(-90) scale(1.0066,1)" font-size="16.5" fill="#000" >BRCA: Infiltrating Ductal</text>
<text transform="translate(993.10,808.07) rotate(-90) scale(0.9948,1)" font-size="16.5" fill="#000" >UCEC: Serous adenocarcinoma</text>
<text transform="translate(1020.60,801.85) rotate(-90) scale(1.0004,1)" font-size="16.5" fill="#000" >SARC: Dedifferentiated liposarcoma</text>
<text transform="translate(1046.00,862.75) rotate(-90) scale(0.9966,1)" font-size="16.5" fill="#000" >STAD: Papillary Type</text>
<text transform="translate(1158.00,737.55) rotate(-90) scale(1.0002,1)" font-size="16.5" fill="#000" >LGG: Oligodendroglioma</text>
<text x="-0.5" y="1035" font-size="33" font-weight="bold">d</text>
<line x1="93.5" y1="1034.2" x2="93.5" y2="1361.2" stroke="#000" stroke-width="2.2"/>
<line x1="92.4" y1="1360.1" x2="1200" y2="1360.1" stroke="#000" stroke-width="2.3"/>
<line x1="87.5" y1="1345.30" x2="93.5" y2="1345.30" stroke="#000" stroke-width="2"/>
<text transform="translate(67.00,1352.60) scale(1.08,1)" font-size="18.8">0</text>
<line x1="87.5" y1="1259.10" x2="93.5" y2="1259.10" stroke="#000" stroke-width="2"/>
<text transform="translate(55.77,1266.40) scale(1.08,1)" font-size="18.8">25</text>
<line x1="87.5" y1="1172.90" x2="93.5" y2="1172.90" stroke="#000" stroke-width="2"/>
<text transform="translate(55.71,1180.20) scale(1.08,1)" font-size="18.8">50</text>
<line x1="87.5" y1="1086.70" x2="93.5" y2="1086.70" stroke="#000" stroke-width="2"/>
<text transform="translate(55.77,1094.00) scale(1.08,1)" font-size="18.8">75</text>
<line x1="114.20" y1="1360" x2="114.20" y2="1366" stroke="#000" stroke-width="2"/>
<rect x="98.85" y="1344.70" width="30.7" height="1.2" fill="#E3CF8A" fill-opacity="0.6"/>
<text transform="translate(114.20,1339.80) scale(1.07,1)" font-size="22" text-anchor="middle">0</text>
<text transform="translate(120.80,1375.96) rotate(-90) scale(0.94,1)" font-size="20.6" text-anchor="end">ACC</text>
<line x1="148.57" y1="1360" x2="148.57" y2="1366" stroke="#000" stroke-width="2"/>
<rect x="133.22" y="1269.44" width="30.7" height="75.86" fill="#FDDDE6"/>
<text transform="translate(148.57,1263.94) scale(1.07,1)" font-size="22" text-anchor="middle">22</text>
<text transform="translate(155.17,1376.66) rotate(-90) scale(0.94,1)" font-size="20.6" text-anchor="end">BLCA</text>
<line x1="182.94" y1="1360" x2="182.94" y2="1366" stroke="#000" stroke-width="2"/>
<rect x="167.59" y="1048.77" width="30.7" height="296.53" fill="#E1288A"/>
<text transform="translate(182.94,1043.27) scale(1.07,1)" font-size="22" text-anchor="middle">86</text>
<text transform="translate(189.54,1376.66) rotate(-90) scale(0.94,1)" font-size="20.6" text-anchor="end">BRCA</text>
<line x1="217.31" y1="1360" x2="217.31" y2="1366" stroke="#000" stroke-width="2"/>
<rect x="201.96" y="1276.34" width="30.7" height="68.96" fill="#F9BC69"/>
<text transform="translate(217.31,1270.84) scale(1.07,1)" font-size="22" text-anchor="middle">20</text>
<text transform="translate(223.91,1375.96) rotate(-90) scale(0.94,1)" font-size="20.6" text-anchor="end">CESC</text>
<line x1="251.68" y1="1360" x2="251.68" y2="1366" stroke="#000" stroke-width="2"/>
<rect x="236.33" y="1344.70" width="30.7" height="1.2" fill="#8AA0C8" fill-opacity="0.6"/>
<text transform="translate(251.68,1339.80) scale(1.07,1)" font-size="22" text-anchor="middle">0</text>
<text transform="translate(258.28,1376.06) rotate(-90) scale(0.94,1)" font-size="20.6" text-anchor="end">CHOL</text>
<line x1="286.05" y1="1360" x2="286.05" y2="1366" stroke="#000" stroke-width="2"/>
<rect x="270.70" y="1231.52" width="30.7" height="113.78" fill="#BCE0F2"/>
<text transform="translate(286.05,1226.02) scale(1.07,1)" font-size="22" text-anchor="middle">33</text>
<text transform="translate(292.65,1375.77) rotate(-90) scale(0.94,1)" font-size="20.6" text-anchor="end">COAD</text>
<line x1="320.42" y1="1360" x2="320.42" y2="1366" stroke="#000" stroke-width="2"/>
<rect x="305.07" y="1324.61" width="30.7" height="20.69" fill="#434AA8"/>
<text transform="translate(320.42,1319.11) scale(1.07,1)" font-size="22" text-anchor="middle">6</text>
<text transform="translate(327.02,1375.96) rotate(-90) scale(0.94,1)" font-size="20.6" text-anchor="end">DLBC</text>
<line x1="354.79" y1="1360" x2="354.79" y2="1366" stroke="#000" stroke-width="2"/>
<rect x="339.44" y="1344.70" width="30.7" height="1.2" fill="#8CC8E0" fill-opacity="0.6"/>
<text transform="translate(354.79,1339.80) scale(1.07,1)" font-size="22" text-anchor="middle">0</text>
<text transform="translate(361.39,1376.66) rotate(-90) scale(0.94,1)" font-size="20.6" text-anchor="end">ESCA</text>
<line x1="389.16" y1="1360" x2="389.16" y2="1366" stroke="#000" stroke-width="2"/>
<rect x="373.81" y="1231.52" width="30.7" height="113.78" fill="#BF4DB0"/>
<text transform="translate(389.16,1226.02) scale(1.07,1)" font-size="22" text-anchor="middle">33</text>
<text transform="translate(395.76,1375.11) rotate(-90) scale(0.94,1)" font-size="20.6" text-anchor="end">GBM</text>
<line x1="423.53" y1="1360" x2="423.53" y2="1366" stroke="#000" stroke-width="2"/>
<rect x="408.18" y="1200.48" width="30.7" height="144.82" fill="#B3EEB3"/>
<text transform="translate(423.53,1194.98) scale(1.07,1)" font-size="22" text-anchor="middle">42</text>
<text transform="translate(430.13,1375.96) rotate(-90) scale(0.94,1)" font-size="20.6" text-anchor="end">HNSC</text>
<line x1="457.90" y1="1360" x2="457.90" y2="1366" stroke="#000" stroke-width="2"/>
<rect x="442.55" y="1197.04" width="30.7" height="148.26" fill="#DC2A1E"/>
<text transform="translate(457.90,1191.54) scale(1.07,1)" font-size="22" text-anchor="middle">43</text>
<text transform="translate(464.50,1375.12) rotate(-90) scale(0.94,1)" font-size="20.6" text-anchor="end">KICH</text>
<line x1="492.27" y1="1360" x2="492.27" y2="1366" stroke="#000" stroke-width="2"/>
<rect x="476.92" y="1252.20" width="30.7" height="93.10" fill="#FEBAC0"/>
<text transform="translate(492.27,1246.70) scale(1.07,1)" font-size="22" text-anchor="middle">27</text>
<text transform="translate(498.87,1375.96) rotate(-90) scale(0.94,1)" font-size="20.6" text-anchor="end">KIRC</text>
<line x1="526.64" y1="1360" x2="526.64" y2="1366" stroke="#000" stroke-width="2"/>
<rect x="511.29" y="1234.96" width="30.7" height="110.34" fill="#F47A7C"/>
<text transform="translate(526.64,1229.46) scale(1.07,1)" font-size="22" text-anchor="middle">32</text>
<text transform="translate(533.24,1375.68) rotate(-90) scale(0.94,1)" font-size="20.6" text-anchor="end">KIRP</text>
<line x1="561.01" y1="1360" x2="561.01" y2="1366" stroke="#000" stroke-width="2"/>
<rect x="545.66" y="1283.24" width="30.7" height="62.06" fill="#E6A3DC"/>
<text transform="translate(561.01,1277.74) scale(1.07,1)" font-size="22" text-anchor="middle">18</text>
<text transform="translate(567.61,1375.25) rotate(-90) scale(0.94,1)" font-size="20.6" text-anchor="end">LGG</text>
<line x1="595.38" y1="1360" x2="595.38" y2="1366" stroke="#000" stroke-width="2"/>
<rect x="580.03" y="1169.45" width="30.7" height="175.85" fill="#D6D4E4"/>
<text transform="translate(595.38,1163.95) scale(1.07,1)" font-size="22" text-anchor="middle">51</text>
<text transform="translate(601.98,1375.96) rotate(-90) scale(0.94,1)" font-size="20.6" text-anchor="end">LIHC</text>
<line x1="629.75" y1="1360" x2="629.75" y2="1366" stroke="#000" stroke-width="2"/>
<rect x="614.40" y="1221.17" width="30.7" height="124.13" fill="#E8CCF2"/>
<text transform="translate(629.75,1215.67) scale(1.07,1)" font-size="22" text-anchor="middle">36</text>
<text transform="translate(636.35,1375.77) rotate(-90) scale(0.94,1)" font-size="20.6" text-anchor="end">LUAD</text>
<line x1="664.12" y1="1360" x2="664.12" y2="1366" stroke="#000" stroke-width="2"/>
<rect x="648.77" y="1183.24" width="30.7" height="162.06" fill="#B98ADB"/>
<text transform="translate(664.12,1177.74) scale(1.07,1)" font-size="22" text-anchor="middle">47</text>
<text transform="translate(670.72,1375.96) rotate(-90) scale(0.94,1)" font-size="20.6" text-anchor="end">LUSC</text>
<line x1="698.49" y1="1360" x2="698.49" y2="1366" stroke="#000" stroke-width="2"/>
<rect x="683.14" y="1344.70" width="30.7" height="1.2" fill="#9C7CC8" fill-opacity="0.6"/>
<text transform="translate(698.49,1339.80) scale(1.07,1)" font-size="22" text-anchor="middle">0</text>
<text transform="translate(705.09,1375.77) rotate(-90) scale(0.94,1)" font-size="20.6" text-anchor="end">MESO</text>
<line x1="732.86" y1="1360" x2="732.86" y2="1366" stroke="#000" stroke-width="2"/>
<rect x="717.51" y="1255.65" width="30.7" height="89.65" fill="#DA7A10"/>
<text transform="translate(732.86,1250.15) scale(1.07,1)" font-size="22" text-anchor="middle">26</text>
<text transform="translate(739.46,1376.61) rotate(-90) scale(0.94,1)" font-size="20.6" text-anchor="end">OV</text>
<line x1="767.23" y1="1360" x2="767.23" y2="1366" stroke="#000" stroke-width="2"/>
<rect x="751.88" y="1344.70" width="30.7" height="1.2" fill="#A8B0CC" fill-opacity="0.6"/>
<text transform="translate(767.23,1339.80) scale(1.07,1)" font-size="22" text-anchor="middle">0</text>
<text transform="translate(773.83,1375.77) rotate(-90) scale(0.94,1)" font-size="20.6" text-anchor="end">PAAD</text>
<line x1="801.60" y1="1360" x2="801.60" y2="1366" stroke="#000" stroke-width="2"/>
<rect x="786.25" y="1344.70" width="30.7" height="1.2" fill="#F0D880" fill-opacity="0.6"/>
<text transform="translate(801.60,1339.80) scale(1.07,1)" font-size="22" text-anchor="middle">0</text>
<text transform="translate(808.20,1375.25) rotate(-90) scale(0.94,1)" font-size="20.6" text-anchor="end">PCPG</text>
<line x1="835.97" y1="1360" x2="835.97" y2="1366" stroke="#000" stroke-width="2"/>
<rect x="820.62" y="1279.79" width="30.7" height="65.51" fill="#851F1C"/>
<text transform="translate(835.97,1274.29) scale(1.07,1)" font-size="22" text-anchor="middle">19</text>
<text transform="translate(842.57,1375.77) rotate(-90) scale(0.94,1)" font-size="20.6" text-anchor="end">PRAD</text>
<line x1="870.34" y1="1360" x2="870.34" y2="1366" stroke="#000" stroke-width="2"/>
<rect x="854.99" y="1303.92" width="30.7" height="41.38" fill="#E4F2FB"/>
<text transform="translate(870.34,1298.42) scale(1.07,1)" font-size="22" text-anchor="middle">12</text>
<text transform="translate(876.94,1375.77) rotate(-90) scale(0.94,1)" font-size="20.6" text-anchor="end">READ</text>
<line x1="904.71" y1="1360" x2="904.71" y2="1366" stroke="#000" stroke-width="2"/>
<rect x="889.36" y="1241.86" width="30.7" height="103.44" fill="#35B8A8"/>
<text transform="translate(904.71,1236.36) scale(1.07,1)" font-size="22" text-anchor="middle">30</text>
<text transform="translate(911.31,1375.96) rotate(-90) scale(0.94,1)" font-size="20.6" text-anchor="end">SARC</text>
<line x1="939.08" y1="1360" x2="939.08" y2="1366" stroke="#000" stroke-width="2"/>
<rect x="923.73" y="1217.72" width="30.7" height="127.58" fill="#CFDF2E"/>
<text transform="translate(939.08,1212.22) scale(1.07,1)" font-size="22" text-anchor="middle">37</text>
<text transform="translate(945.68,1375.11) rotate(-90) scale(0.94,1)" font-size="20.6" text-anchor="end">SKCM</text>
<line x1="973.45" y1="1360" x2="973.45" y2="1366" stroke="#000" stroke-width="2"/>
<rect x="958.10" y="1221.17" width="30.7" height="124.13" fill="#5EAED9"/>
<text transform="translate(973.45,1215.67) scale(1.07,1)" font-size="22" text-anchor="middle">36</text>
<text transform="translate(980.05,1375.77) rotate(-90) scale(0.94,1)" font-size="20.6" text-anchor="end">STAD</text>
<line x1="1007.82" y1="1360" x2="1007.82" y2="1366" stroke="#000" stroke-width="2"/>
<rect x="992.47" y="1344.70" width="30.7" height="1.2" fill="#E88090" fill-opacity="0.6"/>
<text transform="translate(1007.82,1339.80) scale(1.07,1)" font-size="22" text-anchor="middle">0</text>
<text transform="translate(1014.42,1376.26) rotate(-90) scale(0.94,1)" font-size="20.6" text-anchor="end">TGCT</text>
<line x1="1042.19" y1="1360" x2="1042.19" y2="1366" stroke="#000" stroke-width="2"/>
<rect x="1026.84" y="1179.80" width="30.7" height="165.50" fill="#F6E232"/>
<text transform="translate(1042.19,1174.30) scale(1.07,1)" font-size="22" text-anchor="middle">48</text>
<text transform="translate(1048.79,1376.66) rotate(-90) scale(0.94,1)" font-size="20.6" text-anchor="end">THCA</text>
<line x1="1076.56" y1="1360" x2="1076.56" y2="1366" stroke="#000" stroke-width="2"/>
<rect x="1061.21" y="1344.70" width="30.7" height="1.2" fill="#E0D0C0" fill-opacity="0.6"/>
<text transform="translate(1076.56,1339.80) scale(1.07,1)" font-size="22" text-anchor="middle">0</text>
<text transform="translate(1083.16,1375.11) rotate(-90) scale(0.94,1)" font-size="20.6" text-anchor="end">THYM</text>
<line x1="1110.93" y1="1360" x2="1110.93" y2="1366" stroke="#000" stroke-width="2"/>
<rect x="1095.58" y="1197.04" width="30.7" height="148.26" fill="#FFE7D1"/>
<text transform="translate(1110.93,1191.54) scale(1.07,1)" font-size="22" text-anchor="middle">43</text>
<text transform="translate(1117.53,1375.96) rotate(-90) scale(0.94,1)" font-size="20.6" text-anchor="end">UCEC</text>
<line x1="1145.30" y1="1360" x2="1145.30" y2="1366" stroke="#000" stroke-width="2"/>
<rect x="1129.95" y="1344.70" width="30.7" height="1.2" fill="#F8C080" fill-opacity="0.6"/>
<text transform="translate(1145.30,1339.80) scale(1.07,1)" font-size="22" text-anchor="middle">0</text>
<text transform="translate(1151.90,1375.81) rotate(-90) scale(0.94,1)" font-size="20.6" text-anchor="end">UCS</text>
<line x1="1179.67" y1="1360" x2="1179.67" y2="1366" stroke="#000" stroke-width="2"/>
<rect x="1164.32" y="1344.70" width="30.7" height="1.2" fill="#80C8A0" fill-opacity="0.6"/>
<text transform="translate(1179.67,1339.80) scale(1.07,1)" font-size="22" text-anchor="middle">0</text>
<text transform="translate(1186.27,1375.11) rotate(-90) scale(0.94,1)" font-size="20.6" text-anchor="end">UVM</text>
<text transform="translate(35.80,1297.20) rotate(-90) scale(0.9533,1)" font-size="24.3" fill="#000" >Number of samples</text>
<text transform="translate(546.38,1468.75) scale(0.9723,1)" font-size="23.7" fill="#000" >TCGA cancer types</text>
</svg>
</body></html>
